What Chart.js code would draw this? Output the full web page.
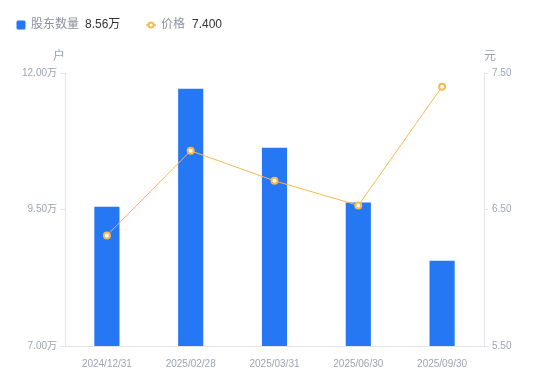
<!DOCTYPE html>
<html>
<head>
<meta charset="utf-8">
<script src="https://cdn.jsdelivr.net/npm/chart.js@4"></script>
<style>
  html, body { margin: 0; padding: 0; background: #fff; }
  #wrap { width: 550px; height: 381px; position: relative; }
</style>
</head>
<body>
<div id="wrap"><canvas id="myChart"></canvas></div>
<script>
// data
const dates = ["2024/12/31", "2025/02/28", "2025/03/31", "2025/06/30", "2025/09/30"];
const holders = [9.55, 11.71, 10.63, 9.63, 8.56]; // 万户
const prices = [6.31, 6.93, 6.71, 6.53, 7.40]; // 元
const holderTicks = [7.0, 9.5, 12.0];
const priceTicks = [5.5, 6.5, 7.5];

const FONT = '"Liberation Sans", "Noto Sans CJK SC", sans-serif';
const BLUE = "#2677f4";
const ORANGE = "#f8b94f";
const GRAY = "#9ea3b2";
const AXIS = "#e3e4e8";

// legend and axis unit labels drawn on the canvas
const headerPlugin = {
  id: "header",
  afterDraw(chart) {
    const ctx = chart.ctx;
    ctx.save();
    ctx.textBaseline = "middle";
    ctx.font = "12px " + FONT;

    // bar legend
    ctx.fillStyle = BLUE;
    ctx.beginPath();
    ctx.roundRect(16.5, 20.5, 9, 9, 1.5);
    ctx.fill();
    ctx.fillStyle = "#8c909c";
    ctx.fillText("股东数量", 31, 25);
    ctx.fillStyle = "#333";
    ctx.fillText(holders[holders.length - 1].toFixed(2) + "万", 85, 25);

    // line legend
    ctx.strokeStyle = ORANGE;
    ctx.lineWidth = 1.5;
    ctx.beginPath();
    ctx.moveTo(146, 25);
    ctx.lineTo(156, 25);
    ctx.stroke();
    ctx.fillStyle = "#fff";
    ctx.lineWidth = 2;
    ctx.beginPath();
    ctx.arc(151, 25, 2.6, 0, Math.PI * 2);
    ctx.fill();
    ctx.stroke();
    ctx.fillStyle = "#8c909c";
    ctx.fillText("价格", 161, 25);
    ctx.fillStyle = "#333";
    ctx.fillText(prices[prices.length - 1].toFixed(3), 192, 25);

    // units
    ctx.fillStyle = GRAY;
    ctx.textAlign = "center";
    ctx.fillText("户", 59, 57);
    ctx.fillText("元", 490, 57);
    ctx.restore();
  },
};

const chartContext = document.getElementById("myChart").getContext("2d");

const chart = new Chart(chartContext, {
  data: {
    labels: dates,
    datasets: [
      {
        type: "line",
        label: "价格",
        data: prices,
        yAxisID: "yPrice",
        borderColor: ORANGE,
        borderWidth: 1,
        pointRadius: 3,
        pointBorderWidth: 2,
        pointBackgroundColor: "#fff",
        pointBorderColor: ORANGE,
        tension: 0,
        order: 0,
      },
      {
        type: "bar",
        label: "股东数量",
        data: holders,
        yAxisID: "yHolders",
        backgroundColor: BLUE,
        categoryPercentage: 1,
        barPercentage: 0.3,
        order: 1,
      },
    ],
  },
  options: {
    responsive: true,
    maintainAspectRatio: false,
    animation: false,
    layout: { padding: { top: 73, left: 0, right: 0, bottom: 0 } },
    plugins: {
      legend: { display: false },
      tooltip: { enabled: false },
    },
    scales: {
      x: {
        grid: { display: false },
        border: { display: true, color: AXIS },
        ticks: { color: GRAY, font: { family: FONT, size: 10 }, padding: 4, maxRotation: 0 },
        afterFit: (s) => { s.height = 35; },
      },
      yHolders: {
        position: "left",
        min: 7,
        max: 12,
        afterBuildTicks: (s) => { s.ticks = holderTicks.map((v) => ({ value: v })); },
        grid: { drawOnChartArea: false, tickLength: 5, color: AXIS },
        border: { display: true, color: AXIS },
        ticks: {
          color: GRAY,
          font: { family: FONT, size: 10 },
          padding: 3,
          callback: (v) => Number(v).toFixed(2) + "万",
        },
        afterFit: (s) => { s.width = 65; },
      },
      yPrice: {
        position: "right",
        min: 5.5,
        max: 7.5,
        afterBuildTicks: (s) => { s.ticks = priceTicks.map((v) => ({ value: v })); },
        grid: { drawOnChartArea: false, tickLength: 4, color: AXIS },
        border: { display: true, color: AXIS },
        ticks: {
          color: GRAY,
          font: { family: FONT, size: 10 },
          padding: 4,
          callback: (v) => Number(v).toFixed(2),
        },
        afterFit: (s) => { s.width = 66; },
      },
    },
  },
  plugins: [headerPlugin],
});
</script>
</body>
</html>
